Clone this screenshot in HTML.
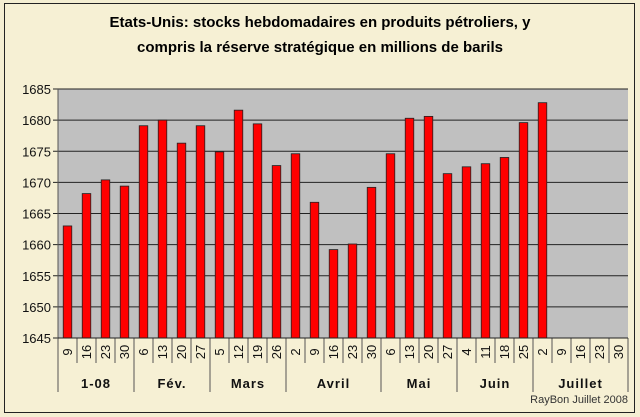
<!DOCTYPE html>
<html><head><meta charset="utf-8"><style>
body{margin:0;background:#fff;}
svg{display:block;font-family:"Liberation Sans",sans-serif;}
</style></head><body>
<svg width="640" height="417">
<rect x="0" y="0" width="640" height="417" fill="#f4eed2"/>
<rect x="4.5" y="3.5" width="630" height="409" fill="#f6f0d4" stroke="#222" stroke-width="1"/>
<text x="320" y="27" text-anchor="middle" font-size="15" font-weight="bold">Etats-Unis: stocks hebdomadaires en produits pétroliers, y</text>
<text x="320" y="52" text-anchor="middle" font-size="15" font-weight="bold">compris la réserve stratégique  en millions de barils</text>
<g id="plot"></g>
<text x="628" y="403" text-anchor="end" font-size="11" fill="#333">RayBon Juillet 2008</text>
</svg>
<script>
const days=["9","16","23","30","6","13","20","27","5","12","19","26","2","9","16","23","30","6","13","20","27","4","11","18","25","2","9","16","23","30"];
const months=["1-08","Fév.","Mars","Avril","Mai","Juin","Juillet"];
const monthCounts=[4,4,4,5,4,4,5];
const values=[1663,1668.2,1670.4,1669.4,1679.1,1680,1676.3,1679.1,1674.9,1681.6,1679.4,1672.7,1674.6,1666.8,1659.2,1660.1,1669.2,1674.6,1680.3,1680.6,1671.4,1672.5,1673,1674,1679.6,1682.8,null,null,null,null];
const yTicks=[1645,1650,1655,1660,1665,1670,1675,1680,1685];
const NS="http://www.w3.org/2000/svg";
const L=58,R=628,T=89,B=338,ymin=1645,ymax=1685;
const y=v=>B-(v-ymin)/(ymax-ymin)*(B-T);
const step=(R-L)/days.length;
const x=i=>L+i*step;
const g=document.getElementById('plot');
function mk(tag,a){const e=document.createElementNS(NS,tag);for(const k in a)e.setAttribute(k,a[k]);g.appendChild(e);return e;}
let e=mk('rect',{x:L,y:T,width:R-L,height:B-T,fill:'#c0c0c0'});


yTicks.forEach(t=>{
 const l=mk('line',{x1:L-5,x2:R,y1:y(t),y2:y(t),stroke:'#222','stroke-width':1});
 
 
 const tx=mk('text',{x:L-7,y:y(t)+5,'text-anchor':'end','font-size':13,fill:'#111'});
 tx.textContent=t;
 
 
});
e=mk('line',{x1:L,x2:L,y1:T,y2:B,stroke:'#555'});


values.forEach((v,i)=>{
 if(v==null)return;
 const bw=step*0.45;
 const b=mk('rect',{x:x(i)+(step-bw)/2,y:y(v),width:bw,height:B-y(v),fill:'#ff0000',stroke:'#222','stroke-width':0.8});
 
 
});
days.forEach((d,i)=>{
 const l=mk('line',{x1:x(i),x2:x(i),y1:B,y2:363,stroke:'#555'});
 
 
 const cx=x(i)+step/2;
 const t=mk('text',{x:cx,y:352,transform:`rotate(-90 ${cx} 352)`,'text-anchor':'middle','font-size':13,'dominant-baseline':'central',fill:'#111'});
 t.textContent=d;
 
 
});
let idx=0;
months.forEach((m,k)=>{
 const s=idx,en=idx+monthCounts[k];
 const l=mk('line',{x1:x(s),x2:x(s),y1:B,y2:392,stroke:'#555'});
 
 
 const t=mk('text',{x:(x(s)+x(en))/2,y:388,'text-anchor':'middle','font-size':13,'font-weight':'bold','letter-spacing':1,fill:'#111'});
 t.textContent=m;
 
 
 idx=en;
});
e=mk('line',{x1:R,x2:R,y1:B,y2:392,stroke:'#555'});


e=mk('line',{x1:L,x2:R,y1:B,y2:B,stroke:'#222'});


</script>
</body></html>
